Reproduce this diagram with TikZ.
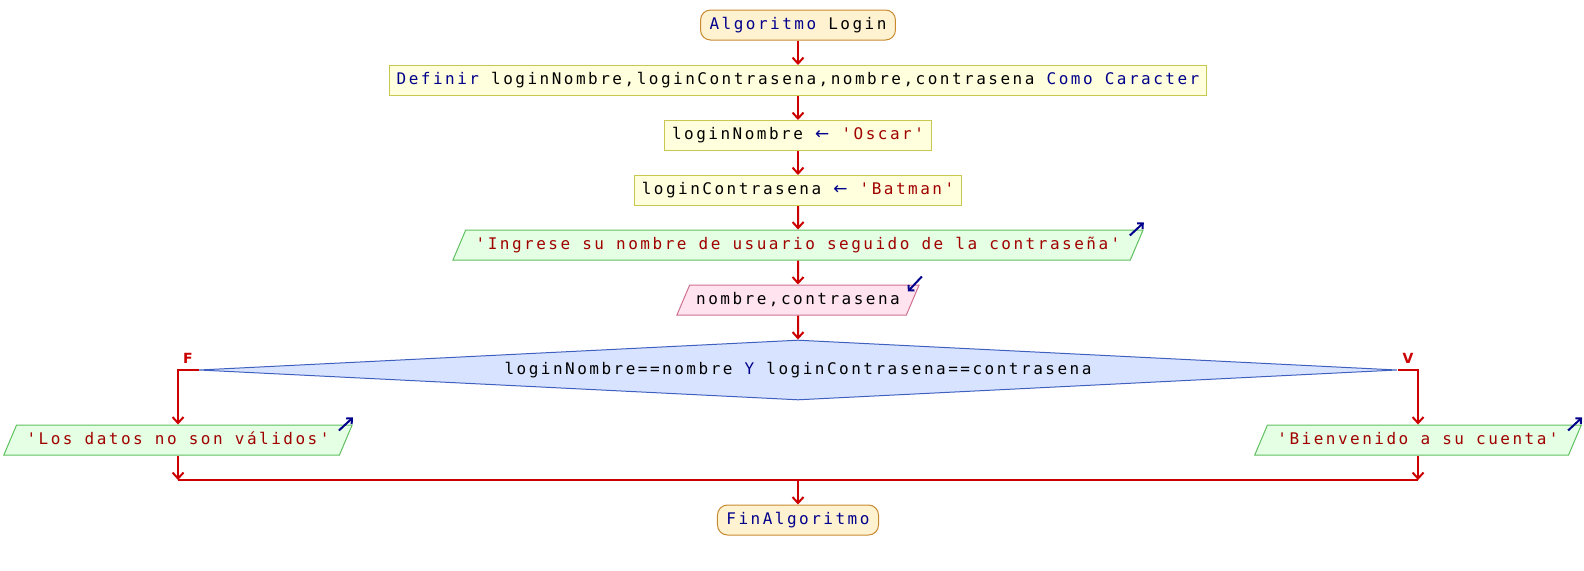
\documentclass[tikz,border=0pt]{standalone}
\usepackage{fontspec}
\usetikzlibrary{shapes}
\usetikzlibrary{shapes.geometric}
\usetikzlibrary{positioning}
\usetikzlibrary{arrows.meta}
\newfontfamily\psfont{DejaVu Sans Mono}[LetterSpace=15.6]
\newfontfamily\lblfont{DejaVu Sans}
\definecolor{edgered}{RGB}{204,0,0}
\definecolor{kwblue}{RGB}{0,0,140}
\definecolor{strred}{RGB}{160,0,0}
\definecolor{termfill}{RGB}{255,242,208}
\definecolor{termdraw}{RGB}{200,138,48}
\definecolor{rectfill}{RGB}{255,255,221}
\definecolor{rectdraw}{RGB}{200,200,80}
\definecolor{outfill}{RGB}{228,255,228}
\definecolor{outdraw}{RGB}{96,192,96}
\definecolor{infill}{RGB}{255,228,240}
\definecolor{indraw}{RGB}{208,112,144}
\definecolor{condfill}{RGB}{216,228,255}
\definecolor{conddraw}{RGB}{64,96,192}
\newcommand{\pskw}[1]{\textcolor{kwblue}{#1}}
\newcommand{\psstr}[1]{\textcolor{strred}{#1}}
\newcommand{\psgets}{\textcolor{kwblue}{{\lblfont\fontsize{17}{18}\selectfont ←}}}
\tikzset{
    psnode/.style = {font=\psfont\fontsize{16}{18}\selectfont, text height=12pt, text depth=4pt, inner ysep=7pt},
    terminal/.style = {psnode, rectangle, rounded corners=10pt, draw=termdraw, fill=termfill, line width=1pt, inner xsep=9pt},
    assign/.style = {psnode, rectangle, draw=rectdraw, fill=rectfill, line width=1pt, inner xsep=7.5pt},
    outbox/.style = {psnode, trapezium, trapezium left angle=67, trapezium right angle=113, draw=outdraw, fill=outfill, line width=1pt, inner xsep=10pt, text=strred},
    inbox/.style = {psnode, trapezium, trapezium left angle=67, trapezium right angle=113, draw=indraw, fill=infill, line width=1pt, inner xsep=6.5pt},
    condbox/.style = {psnode, diamond, aspect=20, inner sep=0pt, minimum width=1198pt, minimum height=60pt, draw=conddraw, fill=condfill, line width=1pt},
    branchlbl/.style = {font=\lblfont\bfseries\fontsize{14}{16}\selectfont, text=edgered, inner sep=0pt},
    flow/.style = {-{Straight Barb[length=6pt,width=11pt]}, line width=2pt, edgered},
    flowline/.style = {line width=2pt, edgered},
    iconarrow/.style = {-{Straight Barb[length=4pt,width=8pt]}, line width=2pt, kwblue}
}
\begin{document}
\begin{tikzpicture}[x=1pt,y=-1pt]
\useasboundingbox (0,0) rectangle (1584,570);

\node[terminal] at (798, 25.0) (start) {\pskw{Algoritmo} Login};
\node[assign] at (798, 80.5) (def) {\pskw{Definir} loginNombre,loginContrasena,nombre,contrasena \pskw{Como Caracter}};
\node[assign] at (798,135.5) (setnom) {loginNombre \psgets{} \psstr{'Oscar'}};
\node[assign] at (798,190.5) (setcon) {loginContrasena \psgets{} \psstr{'Batman'}};
\node[outbox] at (798,245.0) (askout) {'Ingrese su nombre de usuario seguido de la contraseña'};
\node[inbox]  at (798,300.0) (readin) {nombre,contrasena};
\node[condbox] at (798,370.0) (cond) {loginNombre==nombre \pskw{Y} loginContrasena==contrasena};
\node[outbox] at (178,440.0) (badout) {'Los datos no son válidos'};
\node[outbox] at (1418,440.0) (goodout) {'Bienvenido a su cuenta'};
\coordinate (join) at (798,480);
\node[terminal] at (798,520.0) (fin) {\pskw{FinAlgoritmo}};

\node[branchlbl] at (188,358) (lblF) {F};
\node[branchlbl] at (1408,358) (lblV) {V};

\draw[flow] (start) -- (def);
\draw[flow] (def) -- (setnom);
\draw[flow] (setnom) -- (setcon);
\draw[flow] (setcon) -- (askout);
\draw[flow] (askout) -- (readin);
\draw[flow] (readin) -- (cond);
\draw[flow] (cond.west) -| (badout.north);
\draw[flow] (cond.east) -| (goodout.north);
\draw[flow] (badout.south) -- (badout.south |- join);
\draw[flow] (goodout.south) -- (goodout.south |- join);
\draw[flowline] (badout.south |- join) -- (goodout.south |- join);
\draw[flow] (join) -- (fin);

% io marks
\draw[iconarrow] ([xshift=-14pt,yshift=-6pt]askout.top right corner) -- ([yshift=7pt]askout.top right corner);
\draw[iconarrow] ([xshift=2pt,yshift=8pt]readin.top right corner) -- ([xshift=-12pt,yshift=-7pt]readin.top right corner);
\draw[iconarrow] ([xshift=-14pt,yshift=-6pt]badout.top right corner) -- ([yshift=7pt]badout.top right corner);
\draw[iconarrow] ([xshift=-14pt,yshift=-6pt]goodout.top right corner) -- ([yshift=7pt]goodout.top right corner);

\end{tikzpicture}
\end{document}
